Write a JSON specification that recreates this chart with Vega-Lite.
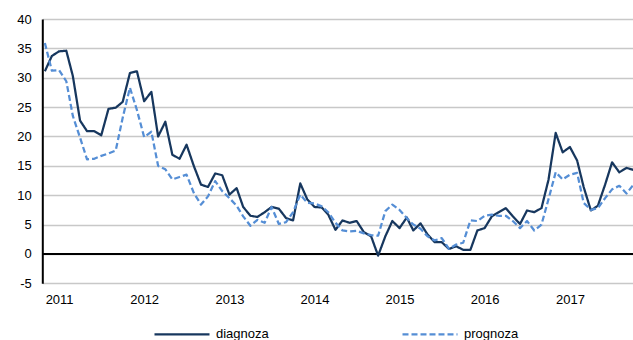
{
  "$schema": "https://vega.github.io/schema/vega-lite/v6.json",
  "width": 591,
  "height": 264.3,
  "autosize": {"type": "none"},
  "padding": {"left": 42.3, "top": 19, "right": 0, "bottom": 56.7},
  "background": "white",
  "config": {
    "view": {"stroke": null},
    "font": "Liberation Sans",
    "axis": {"labelFont": "Liberation Sans", "labelFontSize": 13, "labelColor": "#000000", "title": null},
    "axisY": {
      "labelOverlap": false,
      "labelFlush": false,
      "values": [-5, 0, 5, 10, 15, 20, 25, 30, 35, 40],
      "labelExpr": "datum.value < 0 ? '-' + abs(datum.value) : '' + datum.value",
      "domain": true,
      "domainColor": "#000000",
      "domainWidth": 2,
      "ticks": false,
      "grid": true,
      "gridColor": "#c8c8c8",
      "gridWidth": 1.3,
      "labelPadding": 11
    }
  },
  "layer": [
    {
      "data": {"values": [{"zero": 0}]},
      "mark": {"type": "rule", "color": "#000000", "strokeWidth": 2},
      "encoding": {
        "y": {"field": "zero", "type": "quantitative", "title": null, "axis": {"labelOverlap": false}}
      }
    },
    {
      "data": {
        "values": [
          {"month": "2010-11", "diagnoza": 31.1, "prognoza": 35.9},
          {"month": "2010-12", "diagnoza": 33.7, "prognoza": 31.2},
          {"month": "2011-01", "diagnoza": 34.5, "prognoza": 31.3},
          {"month": "2011-02", "diagnoza": 34.6, "prognoza": 29.4},
          {"month": "2011-03", "diagnoza": 30.3, "prognoza": 23.5},
          {"month": "2011-04", "diagnoza": 22.7, "prognoza": 19.8},
          {"month": "2011-05", "diagnoza": 20.9, "prognoza": 16.1},
          {"month": "2011-06", "diagnoza": 20.9, "prognoza": 16.2},
          {"month": "2011-07", "diagnoza": 20.2, "prognoza": 16.7},
          {"month": "2011-08", "diagnoza": 24.7, "prognoza": 17.1},
          {"month": "2011-09", "diagnoza": 24.9, "prognoza": 17.6},
          {"month": "2011-10", "diagnoza": 25.9, "prognoza": 23.2},
          {"month": "2011-11", "diagnoza": 30.8, "prognoza": 28.3},
          {"month": "2011-12", "diagnoza": 31.1, "prognoza": 24.5},
          {"month": "2012-01", "diagnoza": 26.0, "prognoza": 19.9},
          {"month": "2012-02", "diagnoza": 27.6, "prognoza": 20.8},
          {"month": "2012-03", "diagnoza": 20.0, "prognoza": 15.0},
          {"month": "2012-04", "diagnoza": 22.5, "prognoza": 14.4},
          {"month": "2012-05", "diagnoza": 16.9, "prognoza": 12.7},
          {"month": "2012-06", "diagnoza": 16.2, "prognoza": 13.1},
          {"month": "2012-07", "diagnoza": 18.6, "prognoza": 13.5},
          {"month": "2012-08", "diagnoza": 15.0, "prognoza": 10.4},
          {"month": "2012-09", "diagnoza": 11.8, "prognoza": 8.4},
          {"month": "2012-10", "diagnoza": 11.4, "prognoza": 9.8},
          {"month": "2012-11", "diagnoza": 13.7, "prognoza": 12.4},
          {"month": "2012-12", "diagnoza": 13.4, "prognoza": 10.7},
          {"month": "2013-01", "diagnoza": 10.1, "prognoza": 9.5},
          {"month": "2013-02", "diagnoza": 11.2, "prognoza": 8.2},
          {"month": "2013-03", "diagnoza": 8.0, "prognoza": 6.4},
          {"month": "2013-04", "diagnoza": 6.5, "prognoza": 4.8},
          {"month": "2013-05", "diagnoza": 6.3, "prognoza": 5.8},
          {"month": "2013-06", "diagnoza": 7.1, "prognoza": 5.3},
          {"month": "2013-07", "diagnoza": 8.0, "prognoza": 8.0},
          {"month": "2013-08", "diagnoza": 7.7, "prognoza": 5.1},
          {"month": "2013-09", "diagnoza": 6.1, "prognoza": 5.4},
          {"month": "2013-10", "diagnoza": 5.7, "prognoza": 7.1},
          {"month": "2013-11", "diagnoza": 12.0, "prognoza": 10.1},
          {"month": "2013-12", "diagnoza": 9.3, "prognoza": 8.7},
          {"month": "2014-01", "diagnoza": 8.0, "prognoza": 8.6},
          {"month": "2014-02", "diagnoza": 7.9, "prognoza": 8.1},
          {"month": "2014-03", "diagnoza": 6.7, "prognoza": 7.1},
          {"month": "2014-04", "diagnoza": 4.1, "prognoza": 5.3},
          {"month": "2014-05", "diagnoza": 5.7, "prognoza": 4.0},
          {"month": "2014-06", "diagnoza": 5.3, "prognoza": 3.85},
          {"month": "2014-07", "diagnoza": 5.6, "prognoza": 3.95},
          {"month": "2014-08", "diagnoza": 3.7, "prognoza": 3.5},
          {"month": "2014-09", "diagnoza": 3.0, "prognoza": 3.2},
          {"month": "2014-10", "diagnoza": -0.3, "prognoza": 3.1},
          {"month": "2014-11", "diagnoza": 3.0, "prognoza": 7.3},
          {"month": "2014-12", "diagnoza": 5.6, "prognoza": 8.4},
          {"month": "2015-01", "diagnoza": 4.4, "prognoza": 7.5},
          {"month": "2015-02", "diagnoza": 6.2, "prognoza": 6.1},
          {"month": "2015-03", "diagnoza": 4.0, "prognoza": 5.0},
          {"month": "2015-04", "diagnoza": 5.2, "prognoza": 4.3},
          {"month": "2015-05", "diagnoza": 3.3, "prognoza": 3.0},
          {"month": "2015-06", "diagnoza": 2.0, "prognoza": 2.3},
          {"month": "2015-07", "diagnoza": 2.0, "prognoza": 2.7},
          {"month": "2015-08", "diagnoza": 0.85, "prognoza": 0.85},
          {"month": "2015-09", "diagnoza": 1.3, "prognoza": 1.6},
          {"month": "2015-10", "diagnoza": 0.7, "prognoza": 1.9},
          {"month": "2015-11", "diagnoza": 0.7, "prognoza": 5.7},
          {"month": "2015-12", "diagnoza": 4.0, "prognoza": 5.6},
          {"month": "2016-01", "diagnoza": 4.4, "prognoza": 6.5},
          {"month": "2016-02", "diagnoza": 6.4, "prognoza": 6.7},
          {"month": "2016-03", "diagnoza": 7.1, "prognoza": 6.5},
          {"month": "2016-04", "diagnoza": 7.8, "prognoza": 6.5},
          {"month": "2016-05", "diagnoza": 6.4, "prognoza": 5.6},
          {"month": "2016-06", "diagnoza": 5.1, "prognoza": 4.4},
          {"month": "2016-07", "diagnoza": 7.4, "prognoza": 5.6},
          {"month": "2016-08", "diagnoza": 7.1, "prognoza": 4.0},
          {"month": "2016-09", "diagnoza": 7.8, "prognoza": 5.0},
          {"month": "2016-10", "diagnoza": 12.6, "prognoza": 9.3},
          {"month": "2016-11", "diagnoza": 20.6, "prognoza": 13.9},
          {"month": "2016-12", "diagnoza": 17.3, "prognoza": 12.7},
          {"month": "2017-01", "diagnoza": 18.2, "prognoza": 13.5},
          {"month": "2017-02", "diagnoza": 15.9, "prognoza": 13.8},
          {"month": "2017-03", "diagnoza": 11.4, "prognoza": 8.7},
          {"month": "2017-04", "diagnoza": 7.4, "prognoza": 7.5},
          {"month": "2017-05", "diagnoza": 8.2, "prognoza": 7.8},
          {"month": "2017-06", "diagnoza": 11.8, "prognoza": 9.5},
          {"month": "2017-07", "diagnoza": 15.6, "prognoza": 11.0},
          {"month": "2017-08", "diagnoza": 13.9, "prognoza": 11.6},
          {"month": "2017-09", "diagnoza": 14.65, "prognoza": 10.3},
          {"month": "2017-10", "diagnoza": 14.3, "prognoza": 11.8}
        ]
      },
      "transform": [{"fold": ["diagnoza", "prognoza"], "as": ["series", "value"]}],
      "mark": {"type": "line", "strokeWidth": 2.25, "clip": true, "strokeJoin": "round"},
      "encoding": {
        "x": {
          "field": "month",
          "type": "temporal",
          "scale": {
            "type": "utc",
            "domain": [
              {"year": 2010, "month": 10, "date": 21, "utc": true},
              {"year": 2017, "month": 9, "date": 30, "utc": true}
            ]
          },
          "axis": {
            "title": null,
            "domain": false,
            "ticks": false,
            "grid": false,
            "format": "%Y",
            "values": [
              {"year": 2011, "month": 1, "date": 1, "utc": true},
              {"year": 2012, "month": 1, "date": 1, "utc": true},
              {"year": 2013, "month": 1, "date": 1, "utc": true},
              {"year": 2014, "month": 1, "date": 1, "utc": true},
              {"year": 2015, "month": 1, "date": 1, "utc": true},
              {"year": 2016, "month": 1, "date": 1, "utc": true},
              {"year": 2017, "month": 1, "date": 1, "utc": true}
            ],
            "labelPadding": 10,
            "labelFlush": false,
            "labelOverlap": false
          }
        },
        "y": {
          "field": "value",
          "type": "quantitative",
          "scale": {"domain": [-5, 40], "nice": false, "zero": false},
          "axis": {"title": null, "labelOverlap": false}
        },
        "color": {
          "field": "series",
          "type": "nominal",
          "scale": {"domain": ["diagnoza", "prognoza"], "range": ["#17375e", "#558ed5"]},
          "legend": {
            "title": null,
            "orient": "none",
            "legendX": 110.7,
            "legendY": 286.5,
            "direction": "horizontal",
            "columns": 2,
            "columnPadding": 129,
            "padding": 0,
            "symbolType": "stroke",
            "symbolSize": 3025,
            "symbolStrokeWidth": 2.25,
            "labelOffset": 5,
            "labelFontSize": 13,
            "labelFont": "Liberation Sans",
            "labelColor": "#000000"
          }
        },
        "strokeDash": {
          "field": "series",
          "type": "nominal",
          "scale": {"domain": ["diagnoza", "prognoza"], "range": [[1, 0], [6, 3]]}
        }
      }
    }
  ]
}
